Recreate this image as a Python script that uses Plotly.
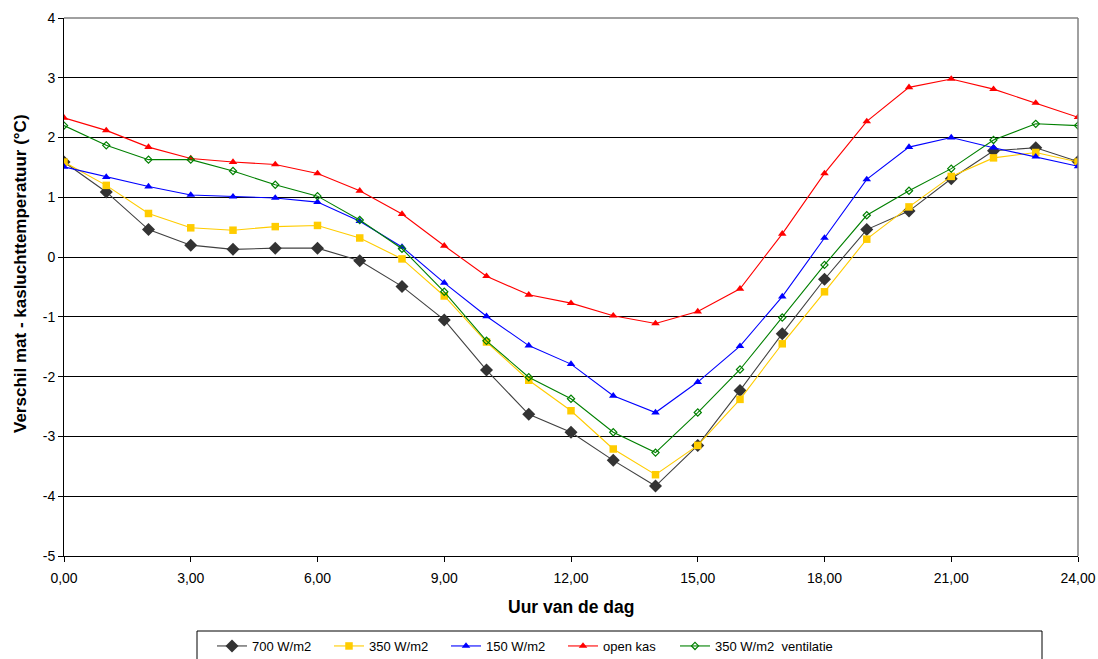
import plotly.graph_objects as go

hours = list(range(25))

v700 = [1.59, 1.09, 0.46, 0.20, 0.13, 0.15, 0.15, -0.06, -0.49, -1.05, -1.89, -2.63, -2.93,
        -3.40, -3.83, -3.15, -2.23, -1.28, -0.37, 0.46, 0.77, 1.31, 1.78, 1.83, 1.60]
v350 = [1.59, 1.20, 0.73, 0.49, 0.45, 0.51, 0.53, 0.32, -0.03, -0.65, -1.42, -2.06, -2.57,
        -3.21, -3.64, -3.15, -2.38, -1.45, -0.58, 0.30, 0.84, 1.35, 1.66, 1.75, 1.59]
v150 = [1.51, 1.34, 1.18, 1.04, 1.01, 0.99, 0.92, 0.60, 0.17, -0.43, -0.99, -1.48, -1.79,
        -2.32, -2.60, -2.09, -1.49, -0.66, 0.32, 1.30, 1.84, 2.00, 1.83, 1.68, 1.52]
vopen = [2.33, 2.12, 1.84, 1.65, 1.59, 1.55, 1.40, 1.11, 0.72, 0.19, -0.32, -0.63, -0.77,
         -0.98, -1.11, -0.91, -0.53, 0.39, 1.40, 2.27, 2.84, 2.98, 2.81, 2.58, 2.34]
vvent = [2.20, 1.87, 1.63, 1.63, 1.44, 1.21, 1.02, 0.62, 0.14, -0.58, -1.40, -2.01, -2.37,
         -2.93, -3.27, -2.60, -1.88, -1.01, -0.13, 0.70, 1.11, 1.48, 1.96, 2.23, 2.20]

names = ["700 W/m2", "350 W/m2", "150 W/m2", "open kas", "350 W/m2 \u00a0ventilatie"]
x_tickvals = [0, 3, 6, 9, 12, 15, 18, 21, 24]
x_ticktext = ["0,00", "3,00", "6,00", "9,00", "12,00", "15,00", "18,00", "21,00", "24,00"]
y_tickvals = [-5, -4, -3, -2, -1, 0, 1, 2, 3, 4]
y_ticktext = ["-5", "-4", "-3", "-2", "-1", "0", "1", "2", "3", "4"]
x_title = "Uur van de dag"
y_title = "Verschil mat - kasluchttemperatuur (°C)"

styles = [
    dict(line=dict(color="#404040", width=1.1), marker=dict(symbol="diamond", size=10, color="#333333")),
    dict(line=dict(color="#FFCC00", width=1.1), marker=dict(symbol="square", size=7.5, color="#FFCC00")),
    dict(line=dict(color="#0000FF", width=1.1), marker=dict(symbol="triangle-up", size=7.5, color="#0000FF")),
    dict(line=dict(color="#FF0000", width=1.1), marker=dict(symbol="triangle-up", size=7.5, color="#FF0000")),
    dict(line=dict(color="#008000", width=1.1), marker=dict(symbol="diamond-open", size=5.5, color="#008000",
                                                            line=dict(width=1.2, color="#008000"))),
]
legend_ids = ["legend", "legend", "legend", "legend", "legend2"]

fig = go.Figure()
for name, vals, st, lg in zip(names, [v700, v350, v150, vopen, vvent], styles, legend_ids):
    fig.add_trace(go.Scatter(x=hours, y=vals, mode="lines+markers", name=name, legend=lg, **st))

font_family = "Liberation Sans, Arial, sans-serif"

L, R, T, B = 64, 20, 18, 103
W, H = 1098, 659
pw, ph = W - L - R, H - T - B


def px_x(px):
    return (px - L) / pw


def px_y(py):
    return (H - B - py) / ph


fig.update_layout(
    width=W, height=H,
    margin=dict(l=L, r=R, t=T, b=B, autoexpand=False),
    paper_bgcolor="white", plot_bgcolor="white",
    font=dict(family=font_family, size=14, color="black"),
    showlegend=True,
    legend=dict(
        orientation="h", x=px_x(212), xanchor="left", y=px_y(631), yanchor="top",
        bgcolor="rgba(0,0,0,0)", borderwidth=0, font=dict(size=13),
        entrywidth=72, entrywidthmode="pixels", itemwidth=30,
    ),
    legend2=dict(
        orientation="h", x=px_x(675), xanchor="left", y=px_y(631), yanchor="top",
        bgcolor="rgba(0,0,0,0)", borderwidth=0, font=dict(size=13), itemwidth=30,
    ),
    xaxis=dict(
        range=[0, 24], tickmode="array", tickvals=x_tickvals, ticktext=x_ticktext,
        showgrid=False, showline=True, linecolor="black", linewidth=1,
        ticks="outside", ticklen=5, tickcolor="black", zeroline=False,
        ticklabelstandoff=4, automargin=False,
    ),
    yaxis=dict(
        range=[-5, 4], tickmode="array", tickvals=y_tickvals, ticktext=y_ticktext,
        showgrid=True, gridcolor="black", gridwidth=1,
        showline=True, linecolor="black", linewidth=1,
        ticks="outside", ticklen=5, tickcolor="black", zeroline=False,
        automargin=False,
    ),
    shapes=[
        dict(type="line", xref="paper", yref="paper", x0=0, x1=1, y0=1, y1=1,
             line=dict(color="#808080", width=1.5)),
        dict(type="line", xref="paper", yref="paper", x0=1, x1=1, y0=0, y1=1,
             line=dict(color="#808080", width=1.5)),
        dict(type="rect", xref="paper", yref="paper", x0=px_x(197), x1=px_x(1042),
             y0=px_y(631), y1=px_y(675), line=dict(color="black", width=1)),
    ],
    annotations=[
        dict(text="<b>" + x_title + "</b>", xref="paper", yref="paper", x=px_x(570.5), y=px_y(607),
             xanchor="center", yanchor="middle", showarrow=False, font=dict(size=17.5)),
        dict(text="<b>" + y_title + "</b>", xref="paper", yref="paper", x=px_x(20), y=px_y(274),
             xanchor="center", yanchor="middle", textangle=-90, showarrow=False, font=dict(size=17)),
    ],
)

fig.write_html(
    "out.html",
    config={"displayModeBar": False},
    post_script="document.body.style.margin='0';document.body.style.overflow='hidden';",
)
